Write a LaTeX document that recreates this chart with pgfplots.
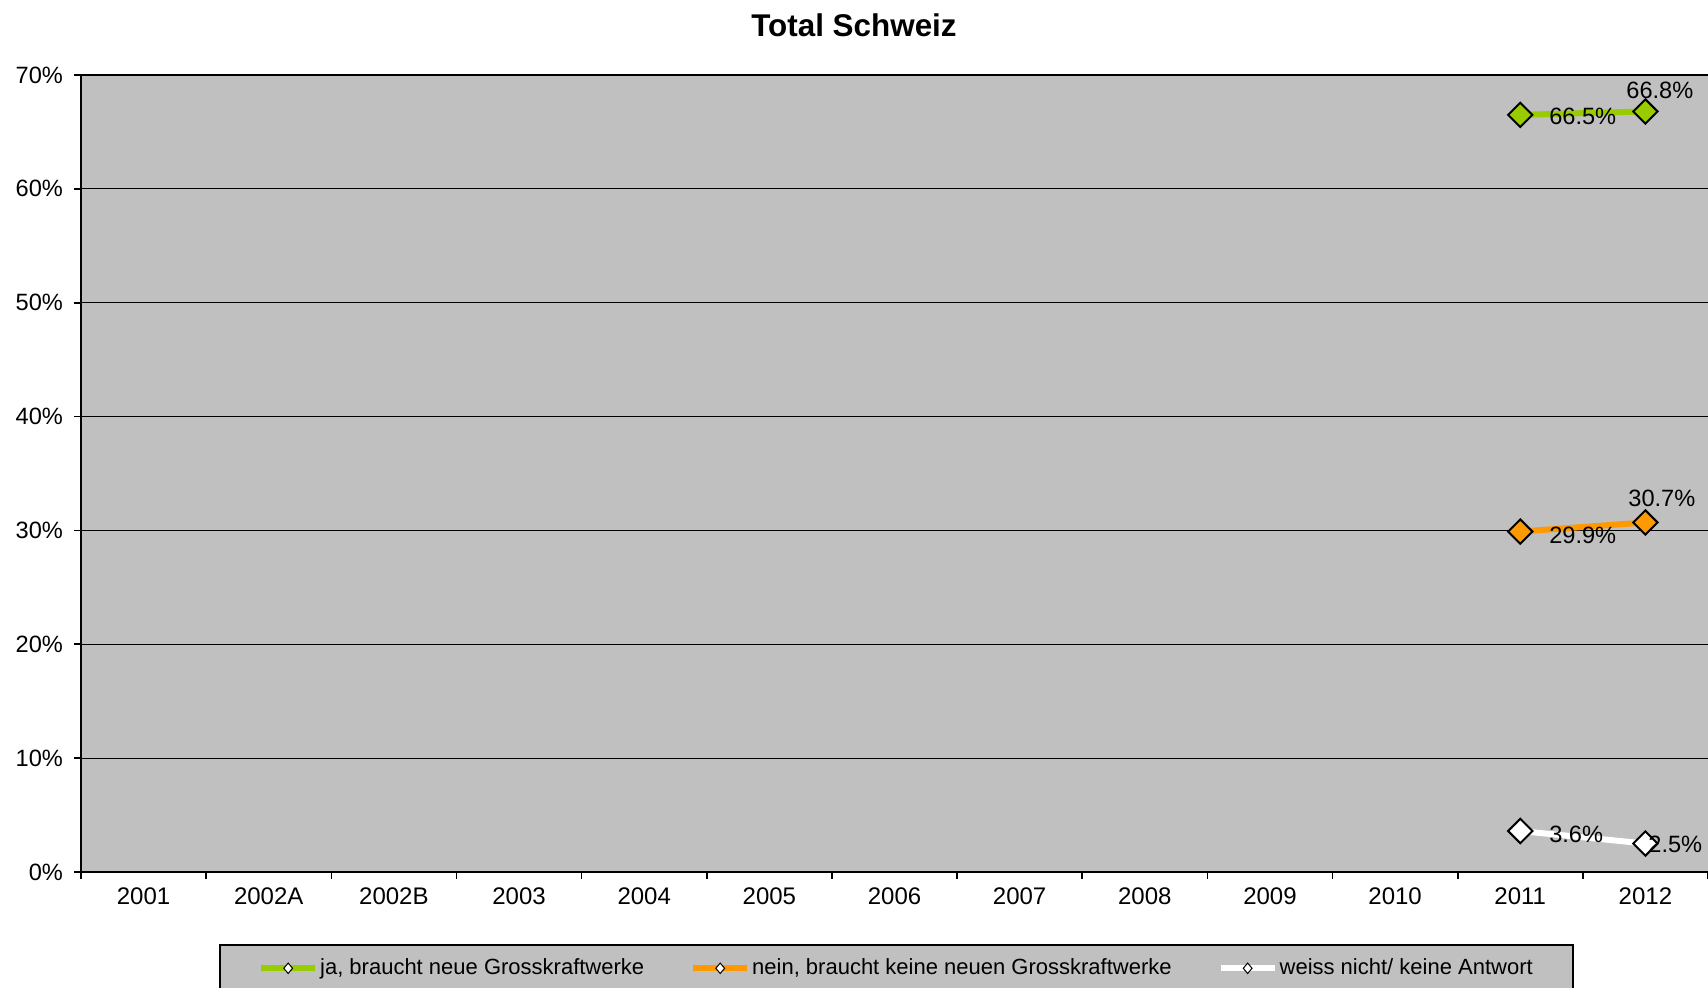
\documentclass[border=0pt]{standalone}
\usepackage{pgfplots}
\pgfplotsset{compat=1.18}
\usepackage{fontspec}
\setmainfont{Liberation Sans}
\definecolor{bggray}{RGB}{192,192,192}
\definecolor{jagreen}{RGB}{153,204,0}
\definecolor{neinorange}{RGB}{255,153,0}

\pgfplotstableread{
x y dx dy
11 66.5 14 -1
12 66.8 -10 10.5
}\ja
\pgfplotstableread{
x y dx dy
11 29.9 14 -2
12 30.7 -9 12
}\nein
\pgfplotstableread{
x y dx dy
11 3.6 14 -1.5
12 2.5 1 -0.5
}\weiss

\begin{document}
\begin{tikzpicture}
\useasboundingbox (0,0) rectangle (854pt,493.5pt);
\node[font=\fontsize{15.7}{18}\selectfont\bfseries] at (427pt,481pt) {Total Schweiz};
\begin{axis}[
  at={(40.5pt,57.5pt)}, anchor=south west,
  scale only axis, width=813.5pt, height=398.5pt,
  xmin=-0.5, xmax=12.5, ymin=0, ymax=70,
  axis background/.style={fill=bggray},
  axis lines*=left,
  axis line style={line width=1.2pt, black},
  tick align=outside,
  major tick length=3.5pt,
  tick style={black, line width=0.8pt},
  xtick={-0.5,0.5,...,12.5},
  xticklabels={},
  extra x ticks={0,1,2,3,4,5,6,7,8,9,10,11,12},
  extra x tick labels={2001,2002A,2002B,2003,2004,2005,2006,2007,2008,2009,2010,2011,2012},
  extra x tick style={major tick length=0pt, grid=none},
  xticklabel style={yshift=-4.5pt, font=\fontsize{12}{14}\selectfont},
  ytick={0,10,...,70},
  yticklabel={\pgfmathprintnumber{\tick}\%},
  yticklabel style={xshift=-2pt, font=\fontsize{11.8}{14}\selectfont},
  /pgf/number format/assume math mode=true,
  ymajorgrids,
  major grid style={black, line width=0.6pt},
  clip=false,
  legend columns=3,
  legend style={at={(0.5012,0)}, anchor=north, yshift=-36pt,
    fill=bggray, draw=black, line width=0.8pt,
    font=\fontsize{11}{13}\selectfont,
    inner xsep=19pt, inner ysep=5pt,
    nodes={inner xsep=1pt, inner ysep=2pt},
    /tikz/every even column/.append style={column sep=22pt}},
  legend image code/.code={
    \draw[#1, mark=none] (0pt,0pt) -- (27pt,0pt);
    \draw[black, line width=0.5pt, fill=white] (13.5pt,0pt) +(0pt,2.6pt) -- +(2.2pt,0pt) -- +(0pt,-2.6pt) -- +(-2.2pt,0pt) -- cycle;
  },
  nodes near coords={\pgfmathprintnumber[fixed,fixed zerofill,precision=1]{\pgfplotspointmeta}\%},
  visualization depends on={\thisrow{dx} \as \dx},
  visualization depends on={\thisrow{dy} \as \dy},
  every node near coord/.append style={anchor=west, inner sep=0pt,
    xshift={\dx pt}, yshift={\dy pt}, text=black,
    font=\fontsize{11.8}{14}\selectfont},
  after end axis/.code={
    \draw[line width=1.2pt, black] (rel axis cs:0,1) -- (rel axis cs:1,1);
  },
]
\addplot[jagreen, line width=3pt, mark=square*, mark size=4.3pt,
  mark options={rotate=45, fill=jagreen, draw=black, line width=1pt}]
  table[x=x, y=y, meta=y] {\ja};
\addlegendentry{ja, braucht neue Grosskraftwerke}
\addplot[neinorange, line width=3pt, mark=square*, mark size=4.3pt,
  mark options={rotate=45, fill=neinorange, draw=black, line width=1pt}]
  table[x=x, y=y, meta=y] {\nein};
\addlegendentry{nein, braucht keine neuen Grosskraftwerke}
\addplot[white, line width=3pt, mark=square*, mark size=4.3pt,
  mark options={rotate=45, fill=white, draw=black, line width=1pt}]
  table[x=x, y=y, meta=y] {\weiss};
\addlegendentry{weiss nicht/ keine Antwort}
\end{axis}
\end{tikzpicture}
\end{document}
